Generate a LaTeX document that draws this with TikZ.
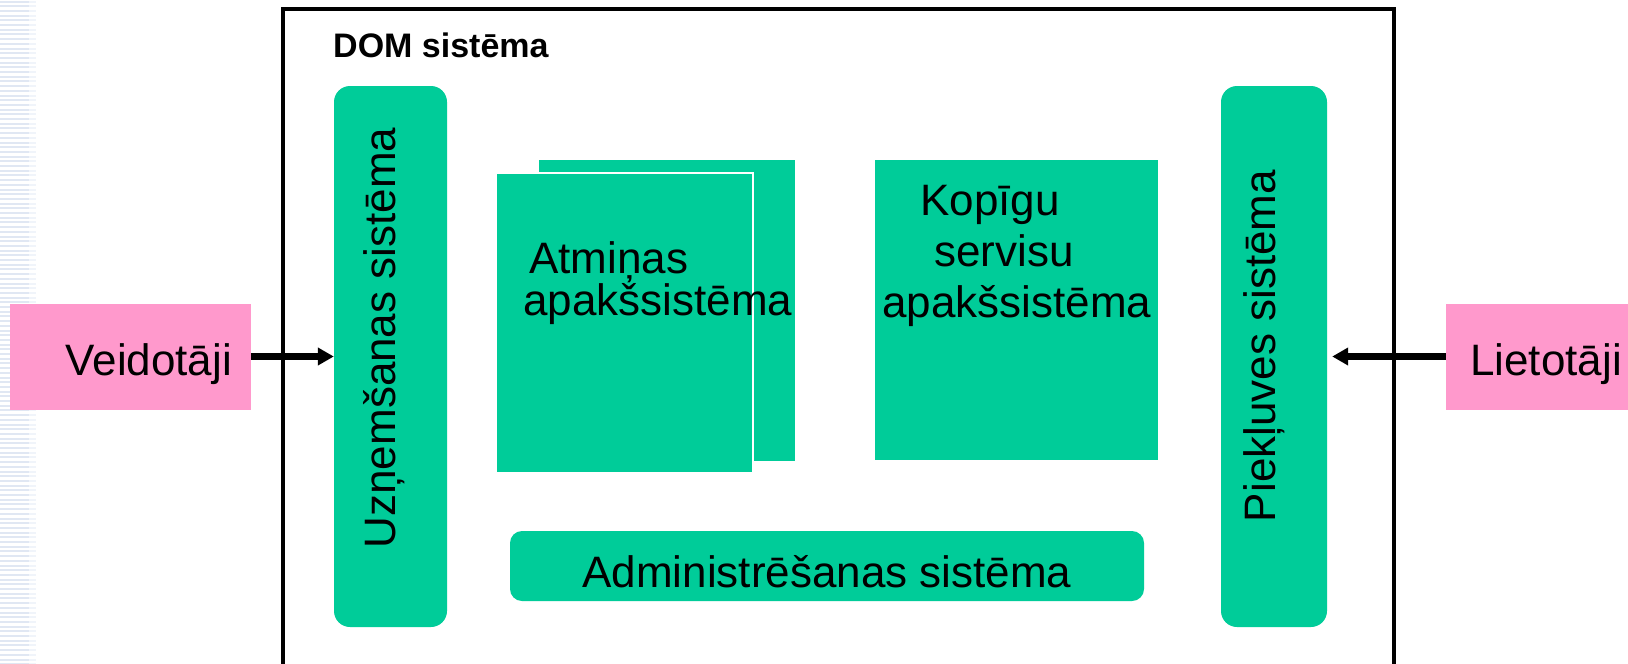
\documentclass[tikz,border=0pt]{standalone}
\usepackage{fontspec}
\setmainfont{Liberation Sans}
\usetikzlibrary{arrows.meta}
\definecolor{boxgreen}{RGB}{0,204,153}
\definecolor{actorpink}{RGB}{255,153,204}
\definecolor{stripe}{RGB}{224,231,243}
\definecolor{stripelight}{RGB}{240,244,250}
\begin{document}
\begin{tikzpicture}[x=1pt,y=-1pt,
  greenbox/.style={fill=boxgreen, draw=none, inner sep=0pt},
  pinkbox/.style={fill=actorpink, draw=none, inner sep=0pt, font=\fontsize{44}{50}\selectfont,
                  minimum height=106pt, text height=48pt, text depth=10pt},
  lbl/.style={font=\fontsize{44}{50}\selectfont, inner sep=0pt},
  arr/.style={line width=6.5pt, -{Triangle[length=16pt,width=17pt]}},
  frame/.style={line width=3.5pt, draw=black}]
\useasboundingbox (0,0) rectangle (1628,664);
\fill[white] (0,0) rectangle (1628,664);
% decorative stripes on the left edge
\foreach \k in {0,...,141} {
  \draw[stripe, line width=2pt] (0,1.5+4.7*\k) -- (29,1.5+4.7*\k);
  \draw[stripelight, line width=2pt] (29,1.5+4.7*\k) -- (36,1.5+4.7*\k);
}
% DOM frame
\draw[frame] (283,672) -- (283,9) -- (1394,9) -- (1394,672);
\node[anchor=base west, font=\bfseries\fontsize{34}{40}\selectfont, inner sep=0pt] (domlbl) at (333,57) {DOM sistēma};
% side systems
\node[greenbox, rounded corners=16pt, minimum width=113pt, minimum height=541pt] (uzn) at (390.5,356.5) {};
\node[lbl, rotate=90, anchor=base] (uzntxt) at (395,338) {Uzņemšanas sistēma};
\node[greenbox, rounded corners=16pt, minimum width=106pt, minimum height=541pt] (piek) at (1274,356.5) {};
\node[lbl, rotate=90, anchor=base] (piektxt) at (1275,346) {Piekļuves sistēma};
% memory subsystem (two stacked squares)
\node[greenbox, minimum width=256pt, minimum height=301pt] (atmback) at (667,310.5) {};
\node[greenbox, draw=white, line width=1.5pt, minimum width=257pt, minimum height=300pt] (atm) at (624.5,323) {};
\node[lbl, anchor=base west, align=left, font=\fontsize{44}{42}\selectfont] (atmtxt) at (523,315) {\hspace*{6pt}Atmiņas\\apakšsistēma};
% common services subsystem
\node[greenbox, minimum width=283pt, minimum height=300pt] (kop) at (1016.5,310) {};
\node[lbl, anchor=base west, align=left, font=\fontsize{44}{51}\selectfont] (koptxt) at (882,317) {\hspace*{38pt}Kopīgu\\\hspace*{52pt}servisu\\apakšsistēma};
% administration
\node[greenbox, rounded corners=12pt, minimum width=634pt, minimum height=70pt,
      font=\fontsize{44}{50}\selectfont, text height=50pt, text depth=8pt] (adm) at (827,566) {Administrēšanas sistēma};
% actors
\node[pinkbox, minimum width=241pt, text width=203pt, align=right, inner xsep=19pt] (veid) at (130.5,356.5) {Veidotāji};
\node[pinkbox, minimum width=200pt] (liet) at (1546,356.5) {Lietotāji};
% connectors
\draw[arr] (veid.east) -- (uzn.west);
\draw[arr, shorten >=5pt] (liet.west) -- (piek.east);
\end{tikzpicture}
\end{document}
